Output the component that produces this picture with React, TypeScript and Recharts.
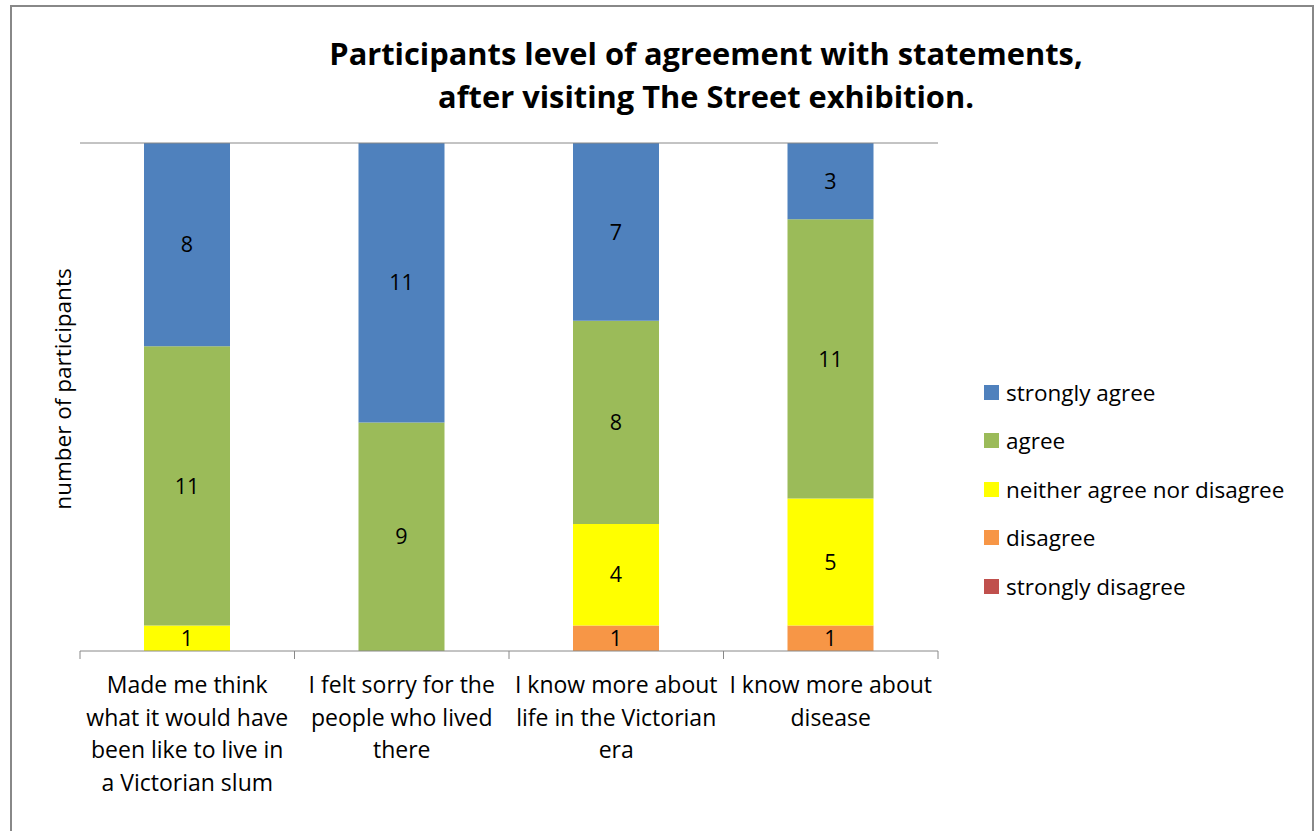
import React from 'react';
import { BarChart, Bar, XAxis, YAxis, LabelList, ReferenceLine, Legend } from 'recharts';

const categories = [
  'Made me think what it would have been like to live in a Victorian slum',
  'I felt sorry for the people who lived there',
  'I know more about life in the Victorian era',
  'I know more about disease',
];
const categoryLines = [
  ['Made me think', 'what it would have', 'been like to live in', 'a Victorian slum'],
  ['I felt sorry for the', 'people who lived', 'there'],
  ['I know more about', 'life in the Victorian', 'era'],
  ['I know more about', 'disease'],
];
const stronglyDisagree = [0, 0, 0, 0];
const disagree = [0, 0, 1, 1];
const neither = [1, 0, 4, 5];
const agree = [11, 9, 8, 11];
const stronglyAgree = [8, 11, 7, 3];

const series = [
  { key: 'strongly disagree', values: stronglyDisagree, color: '#C0504D' },
  { key: 'disagree', values: disagree, color: '#F79646' },
  { key: 'neither agree nor disagree', values: neither, color: '#FFFF00' },
  { key: 'agree', values: agree, color: '#9BBB59' },
  { key: 'strongly agree', values: stronglyAgree, color: '#4F81BD' },
];

const data = categories.map((name, i) => {
  const row: Record<string, any> = { name, idx: i };
  series.forEach((s) => (row[s.key] = s.values[i]));
  return row;
});

const FONT = '"Open Sans", sans-serif';

const CategoryTick = (props: any) => {
  const { x, y, payload, index } = props;
  const half = payload.offset ?? 0;
  const lines = categoryLines[index] || [payload.value];
  return (
    <g>
      <line x1={x - half} x2={x - half} y1={y} y2={y + 8} stroke="#888" />
      {index === categories.length - 1 && (
        <line x1={x + half} x2={x + half} y1={y} y2={y + 8} stroke="#888" />
      )}
      {lines.map((l: string, j: number) => (
        <text key={j} x={x} y={y + 42 + j * 32.5} textAnchor="middle" fontSize={23} fill="#000" fontFamily={FONT}>
          {l}
        </text>
      ))}
    </g>
  );
};

const YTitle = (props: any) => {
  const { viewBox } = props;
  const cx = viewBox.x + viewBox.width * 0.8 + 7;
  const cy = viewBox.y + viewBox.height / 2 - 8;
  return (
    <text x={cx} y={cy} transform={`rotate(-90, ${cx}, ${cy})`} textAnchor="middle" fontSize={22.5} fill="#000" fontFamily={FONT}>
      number of participants
    </text>
  );
};

const legendOrder = [...series].reverse();

const LegendContent = () => (
  <div style={{ fontFamily: FONT, fontSize: 22.5, color: '#000' }}>
    {legendOrder.map((s) => (
      <div key={s.key} style={{ display: 'flex', alignItems: 'center', height: 48.5 }}>
        <span style={{ width: 15, height: 15, background: s.color, display: 'inline-block', marginRight: 7 }} />
        <span>{s.key}</span>
      </div>
    ))}
  </div>
);

const hideZero = (v: any) => (v ? v : '');

export default function App() {
  return (
    <div style={{ position: 'absolute', left: 0, top: 0, width: 1316, height: 831, background: '#fff', overflow: 'hidden' }}>
      <div style={{ position: 'absolute', left: 10, top: 5, width: 1304, height: 840, border: '2px solid #888', boxSizing: 'border-box' }} />
      <div style={{ position: 'absolute', left: 6, top: 32, width: 1400, textAlign: 'center', fontFamily: FONT, fontWeight: 'bold', fontSize: 30.8, lineHeight: '43px', color: '#000' }}>
        Participants level of agreement with statements,<br />after visiting The Street exhibition.
      </div>
      <div style={{ position: 'absolute', left: 0, top: 0 }}>
        <BarChart width={1316} height={831} data={data} margin={{ top: 143, right: 48, left: 0, bottom: 50 }} barSize={86}>
          <XAxis dataKey="name" axisLine={{ stroke: '#888' }} tickLine={false} tickSize={0} tickMargin={0} height={130} interval={0} tick={<CategoryTick />} />
          <YAxis domain={[0, 20]} width={80} axisLine={false} tickLine={false} tick={false} label={<YTitle />} />
          <ReferenceLine y={20} stroke="#888" />
          <Legend layout="vertical" verticalAlign="top" align="right" content={<LegendContent />}
            wrapperStyle={{ position: 'absolute', left: 984, top: 368, width: 330 }} />
          {series.map((s) => (
            <Bar key={s.key} dataKey={s.key} stackId="a" fill={s.color} isAnimationActive={false}>
              <LabelList dataKey={s.key} position="center" formatter={hideZero} fontSize={21.5} fill="#000" fontFamily={FONT} />
            </Bar>
          ))}
        </BarChart>
      </div>
    </div>
  );
}
